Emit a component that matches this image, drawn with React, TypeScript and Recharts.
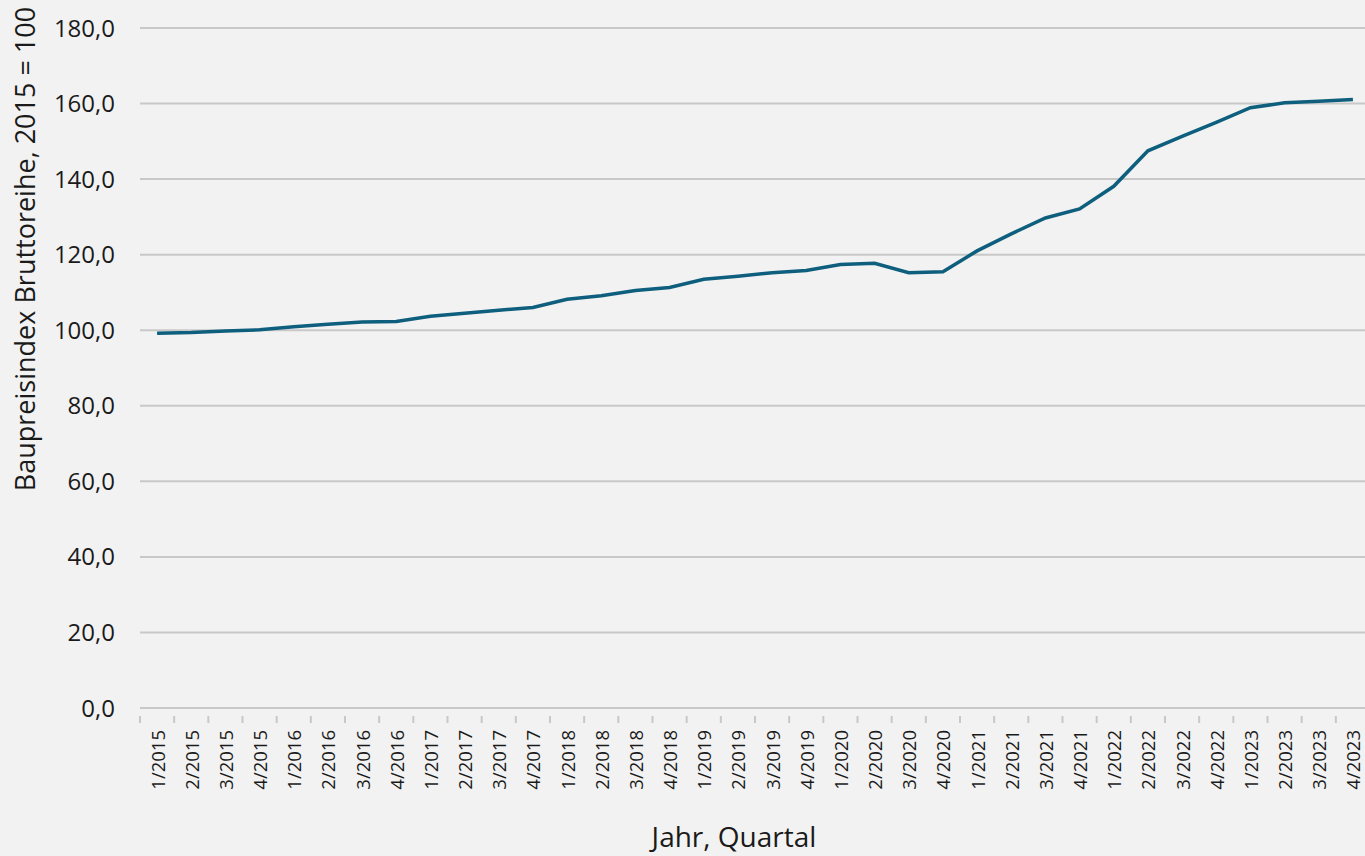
import { LineChart, Line, XAxis, YAxis, CartesianGrid } from 'recharts';

const QUARTERS = [
  '1/2015', '2/2015', '3/2015', '4/2015',
  '1/2016', '2/2016', '3/2016', '4/2016',
  '1/2017', '2/2017', '3/2017', '4/2017',
  '1/2018', '2/2018', '3/2018', '4/2018',
  '1/2019', '2/2019', '3/2019', '4/2019',
  '1/2020', '2/2020', '3/2020', '4/2020',
  '1/2021', '2/2021', '3/2021', '4/2021',
  '1/2022', '2/2022', '3/2022', '4/2022',
  '1/2023', '2/2023', '3/2023', '4/2023',
];

const INDEX_VALUES = [
  99.2, 99.4, 99.8, 100.1,
  100.9, 101.6, 102.2, 102.3,
  103.7, 104.5, 105.3, 106.0,
  108.2, 109.1, 110.5, 111.3,
  113.5, 114.3, 115.2, 115.8,
  117.4, 117.7, 115.2, 115.5,
  121.0, 125.5, 129.7, 132.1,
  138.1, 147.5, 151.3, 155.0,
  158.9, 160.2, 160.6, 161.1,
];

const Y_TICKS = [0, 20, 40, 60, 80, 100, 120, 140, 160, 180];

const chartData = QUARTERS.map((q, i) => ({ quarter: q, value: INDEX_VALUES[i] }));

const FONT = '"Open Sans", sans-serif';
const CHART_W = 1376;
const CHART_H = 856;
const PLOT_LEFT = 140;
const PLOT_RIGHT = 6;
const BAND = (CHART_W - PLOT_LEFT - PLOT_RIGHT) / QUARTERS.length;

const fmt = (v: number) => v.toFixed(1).replace('.', ',');

function QuarterTick(props: any) {
  const { x, y, payload } = props;
  const left = x - BAND / 2;
  return (
    <g>
      <line x1={left} y1={y} x2={left} y2={y + 7} stroke="#c8c8c8" strokeWidth={2} />
      <text
        x={x}
        y={y + 14}
        transform={`rotate(-90, ${x}, ${y + 14})`}
        textAnchor="end"
        dominantBaseline="central"
        fontSize={18.5}
        fontFamily={FONT}
        fill="#1a1a1a"
      >
        {payload.value}
      </text>
    </g>
  );
}

export default function App() {
  return (
    <div
      style={{
        position: 'absolute',
        left: 0,
        top: 0,
        width: 1365,
        height: 856,
        overflow: 'hidden',
        background: '#f2f2f2',
      }}
    >
      <LineChart
        width={CHART_W}
        height={CHART_H}
        data={chartData}
        margin={{ top: 28, right: PLOT_RIGHT, bottom: 0, left: 0 }}
      >
        <CartesianGrid horizontal vertical={false} stroke="#c8c8c8" strokeWidth={2} />
        <XAxis
          dataKey="quarter"
          scale="band"
          height={148}
          interval={0}
          axisLine={{ stroke: '#c8c8c8', strokeWidth: 2 }}
          tickLine={false}
          tick={<QuarterTick />}
          label={{
            content: () => (
              <text x={734} y={847} textAnchor="middle" fontSize={28} fontFamily={FONT} fill="#1a1a1a">
                Jahr, Quartal
              </text>
            ),
          }}
        />
        <YAxis
          width={PLOT_LEFT}
          domain={[0, 180]}
          ticks={Y_TICKS}
          tickFormatter={fmt}
          axisLine={false}
          tickLine={false}
          tickSize={0}
          tickMargin={25}
          tick={{ fontSize: 24, fontFamily: FONT, fill: '#1a1a1a' }}
          label={{
            content: () => (
              <text
                x={35}
                y={249}
                transform="rotate(-90, 35, 249)"
                textAnchor="middle"
                fontSize={27}
                fontFamily={FONT}
                fill="#1a1a1a"
              >
                Baupreisindex Bruttoreihe, 2015 = 100
              </text>
            ),
          }}
        />
        <Line
          type="linear"
          dataKey="value"
          stroke="#0e5f7e"
          strokeWidth={3.5}
          dot={false}
          activeDot={false}
          isAnimationActive={false}
        />
      </LineChart>
    </div>
  );
}
